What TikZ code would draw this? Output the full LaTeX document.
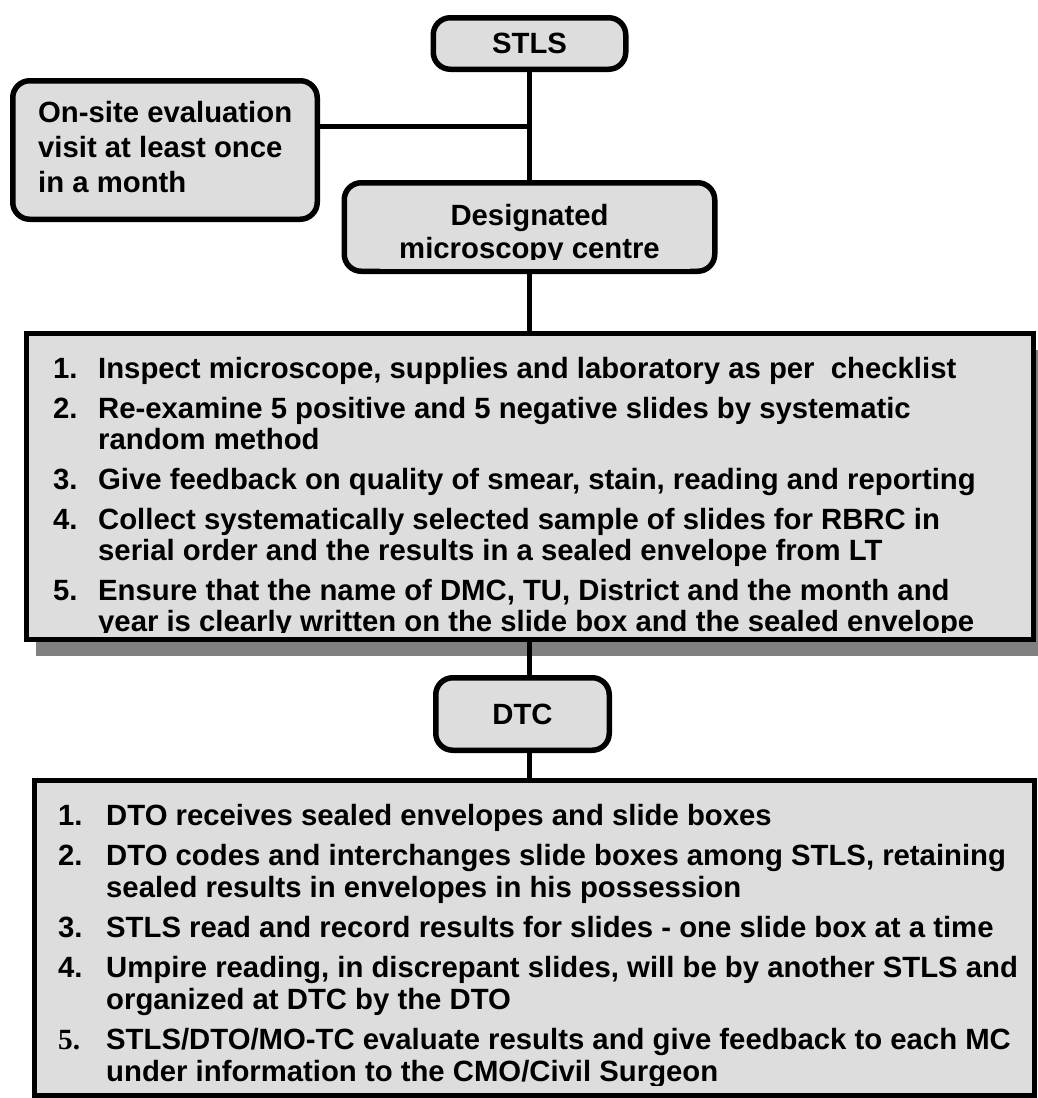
\documentclass[tikz,border=0pt]{standalone}
\usepackage{fontspec}
\setmainfont{Liberation Sans}
\newfontfamily\numserif{Liberation Serif}
\usetikzlibrary{shadows}
\definecolor{boxgray}{RGB}{221,221,221}
\definecolor{shadowgray}{RGB}{128,128,128}
\newcommand{\listno}[2][45pt]{\makebox[#1][l]{#2}}

\begin{document}
\begin{tikzpicture}[x=1pt,y=-1pt,
        rbox/.style={draw,line width=5.5pt,fill=boxgray,rounded corners=17pt,inner sep=0pt},
        bigbox/.style={draw,line width=5pt,fill=boxgray,inner sep=0pt},
        txt/.style={inner sep=0pt,font=\fontsize{29.3}{31}\selectfont\bfseries},
        conn/.style={line width=5pt}]
        \useasboundingbox (0,0) rectangle (1037,1098);
        \pgfmathsetmacro{\spine}{529.5} % x of the main line
        % rounded boxes
        \node[rbox,minimum width=192.5pt,minimum height=51.5pt] (stls) at (\spine,43.5) {};
        \node[rbox,minimum width=304.5pt,minimum height=138.5pt] (onsite) at (165,150) {};
        \node[rbox,minimum width=370.5pt,minimum height=88.5pt] (dmc) at (\spine,227) {};
        \node[rbox,minimum width=173.5pt,minimum height=72.5pt] (dtc) at (522.5,714) {};
        % list boxes
        \node[bigbox,minimum width=1007pt,minimum height=306pt,
              drop shadow={shadow xshift=9pt,shadow yshift=-16pt,fill=shadowgray,opacity=1}] (box1) at (530,486.5) {};
        \node[bigbox,minimum width=1000pt,minimum height=315pt] (box2) at (534.5,938) {};
        % connectors
        \coordinate (branch) at (\spine,126);
        \draw[conn] (stls.south) -- (dmc.north);
        \draw[conn] (onsite.east |- branch) -- (branch);
        \draw[conn] (dmc.south) -- (dmc.south |- box1.north);
        \draw[conn] (box1.south -| dmc.south) -- (dtc.north -| dmc.south);
        \draw[conn] (dtc.south -| dmc.south) -- (box2.north -| dmc.south);
        % texts
        \node[txt] (stlstxt) at (stls) {\raisebox{-3pt}{STLS}};
        \node[txt] (dtctxt) at (dtc) {\raisebox{-5pt}{DTC}};
        \node[txt,anchor=base west,font=\fontsize{29.3}{35}\selectfont\bfseries] (onsitetxt) at (38,122)
            {\begin{tabular}[t]{@{}l@{}}On-site evaluation\\visit at least once\\in a month\end{tabular}};
        \node[txt,anchor=base,font=\fontsize{29.3}{33}\selectfont\bfseries] (dmctxt) at (\spine,225.5)
            {\begin{tabular}[t]{@{}c@{}}Designated\\microscopy centre\end{tabular}};
        \node[txt,anchor=base west] (list1) at (53,378.5) {\begin{tabular}[t]{@{}l@{}}
            \listno{1.}Inspect microscope, supplies and laboratory as per~ checklist\\[9pt]
            \listno{2.}Re-examine 5 positive and 5 negative slides by systematic\\
            \listno{}random method\\[9pt]
            \listno{3.}Give feedback on quality of smear, stain, reading and reporting\\[9pt]
            \listno{4.}Collect systematically selected sample of slides for RBRC in\\
            \listno{}serial order and the results in a sealed envelope from LT\\[9pt]
            \listno{5.}Ensure that the name of DMC, TU, District and the month and\\
            \listno{}year is clearly written on the slide box and the sealed envelope
            \end{tabular}};
        \node[txt,anchor=base west,font=\fontsize{29.3}{32}\selectfont\bfseries] (list2) at (58,825.5) {\begin{tabular}[t]{@{}l@{}}
            \listno[48pt]{1.}DTO receives sealed envelopes and slide boxes\\[8pt]
            \listno[48pt]{2.}DTO codes and interchanges slide boxes among STLS, retaining\\
            \listno[48pt]{}sealed results in envelopes in his possession\\[8pt]
            \listno[48pt]{3.}STLS read and record results for slides - one slide box at a time\\[8pt]
            \listno[48pt]{4.}Umpire reading, in discrepant slides, will be by another STLS and\\
            \listno[48pt]{}organized at DTC by the DTO\\[8pt]
            \listno[48pt]{{\numserif 5.}}STLS/DTO/MO-TC evaluate results and give feedback to each MC\\
            \listno[48pt]{}under information to the CMO/Civil Surgeon
            \end{tabular}};
        % last lines are cut off at the bottom of their boxes
        \fill[boxgray] (380,260) rectangle (690,268.5);
        \fill[boxgray] (30,633) rectangle (1030,637);
        \fill[boxgray] (40,1086) rectangle (1030,1093);
    \end{tikzpicture}
\end{document}
